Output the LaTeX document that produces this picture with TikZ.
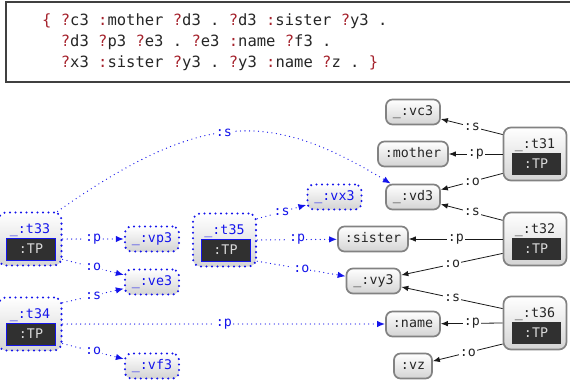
\documentclass[tikz,border=0pt]{standalone}
\usepackage{fontspec}
\setmonofont{DejaVu Sans Mono}
\usetikzlibrary{arrows.meta}
\definecolor{codered}{RGB}{165,35,45}
\definecolor{nodegray}{RGB}{130,130,130}
\definecolor{tpdark}{RGB}{48,48,48}
\definecolor{rdfblue}{RGB}{20,20,235}
\newcommand\cdq{\textcolor{codered}{?}}
\newcommand\cdc{\textcolor{codered}{:}}
\newcommand\tnd[5]{%
  \node[tbox#5] (#1) at (#2,#3) {};
  \node[tlab#5, anchor=base] (#1l) at (#2,#3-5.5) {\_:#4};
  \node[tp#5] (#1tp) at (#2+1,#3+10) {:TP};
}
\begin{document}
\begin{tikzpicture}[x=1pt,y=-1pt,
  every node/.style={font=\ttfamily\fontsize{13.3}{16}\selectfont},
  gnode/.style={draw=nodegray, line width=1.7pt, rounded corners=6.5pt,
    top color=white, bottom color=black!17, minimum height=25pt,
    inner xsep=7pt, inner ysep=0pt, text height=9.5pt, text depth=2.5pt, text=black!85},
  bnode/.style={gnode, draw=rdfblue, dash pattern=on 0pt off 5.5pt,
    line cap=round, line width=2.3pt, text=rdfblue},
  tboxk/.style={gnode, rounded corners=7.5pt, minimum width=63pt, minimum height=53pt},
  tboxb/.style={bnode, rounded corners=7.5pt, minimum width=63pt, minimum height=53pt},
  tlabk/.style={inner sep=0pt, text=black!85},
  tlabb/.style={inner sep=0pt, text=rdfblue},
  tpk/.style={fill=tpdark, text=white!85!black, minimum width=49pt,
    minimum height=22pt, inner sep=0pt},
  tpb/.style={tpk, draw=rdfblue, line width=0.9pt},
  kedge/.style={draw=black!90, line width=0.8pt, -{Latex[length=7pt,width=5.5pt]}},
  bedge/.style={draw=rdfblue, line width=1.3pt, dash pattern=on 0pt off 4.5pt,
    line cap=round, -{Latex[length=8pt,width=6.5pt]}},
  klab/.style={midway, fill=white, inner sep=1pt, text=black!85},
  blab/.style={midway, fill=white, inner sep=1pt, text=rdfblue},
  code/.style={anchor=base west, inner sep=0pt, text=black!85,
    font=\ttfamily\fontsize{15.5}{18}\selectfont}
]
\useasboundingbox (0,0) rectangle (570,385);

% code box
\draw[line width=1.2pt, black!75] (6,2) rectangle (600,82);
\node[code] (c1) at (42,26) {\textcolor{codered}{\{} \cdq c3 \cdc mother \cdq d3 . \cdq d3 \cdc sister \cdq y3 .};
\node[code] (c2) at (60.7,47) {\cdq d3 \cdq p3 \cdq e3 . \cdq e3 \cdc name \cdq f3 .};
\node[code] (c3) at (60.7,68) {\cdq x3 \cdc sister \cdq y3 . \cdq y3 \cdc name \cdq z . \textcolor{codered}{\}}};

% value nodes (black)
\node[gnode] (vc3) at (413,112) {\_:vc3};
\node[gnode] (mother) at (413,154) {:mother};
\node[gnode] (vd3) at (413,197) {\_:vd3};
\node[gnode] (sister) at (373,239) {:sister};
\node[gnode] (vy3) at (373.5,281) {\_:vy3};
\node[gnode] (name) at (413,324) {:name};
\node[gnode] (vz) at (413,366) {:vz};

% value nodes (blue)
\node[bnode] (vp3) at (152,239) {\_:vp3};
\node[bnode] (ve3) at (152,282) {\_:ve3};
\node[bnode] (vf3) at (152,366) {\_:vf3};
\node[bnode] (vx3) at (334.5,197) {\_:vx3};

% triple nodes
\tnd{t31}{535}{154}{t31}{k}
\tnd{t32}{535}{239}{t32}{k}
\tnd{t36}{535}{323}{t36}{k}
\tnd{t33}{30}{239}{t33}{b}
\tnd{t34}{30}{324}{t34}{b}
\tnd{t35}{224.5}{240}{t35}{b}

% black edges
\draw[kedge] (t31.149) -- (vc3) node[klab] (e1) {:s};
\draw[kedge] (t31.west) -- (mother) node[klab] (e2) {:p};
\draw[kedge] (t31.211) -- (vd3) node[klab] (e3) {:o};
\draw[kedge] (t32.150) -- (vd3) node[klab] (e4) {:s};
\draw[kedge] (t32.west) -- (sister) node[klab] (e5) {:p};
\draw[kedge] (t32.204) -- (vy3) node[klab] (e6) {:o};
\draw[kedge] (t36.156) -- (vy3) node[klab] (e7) {:s};
\draw[kedge] (t36.west) -- (name) node[klab] (e8) {:p};
\draw[kedge] (t36.213) -- (vz) node[klab] (e9) {:o};

% blue edges
\draw[bedge] (t33.45) .. controls (202,110) and (270,110) .. (vd3.149) node[blab, pos=0.47] (b1) {:s};
\draw[bedge] (t33.east) -- (vp3) node[blab] (b2) {:p};
\draw[bedge] (t33.-32) -- (ve3) node[blab] (b3) {:o};
\draw[bedge] (t34.33) -- (ve3) node[blab] (b4) {:s};
\draw[bedge] (t34.east) -- (name) node[blab] (b5) {:p};
\draw[bedge] (t34.-31) -- (vf3) node[blab] (b6) {:o};
\draw[bedge] (t35.33) -- (vx3) node[blab] (b7) {:s};
\draw[bedge] (t35.east) -- (sister) node[blab] (b8) {:p};
\draw[bedge] (t35.-33) -- (vy3) node[blab] (b9) {:o};
\end{tikzpicture}
\end{document}
